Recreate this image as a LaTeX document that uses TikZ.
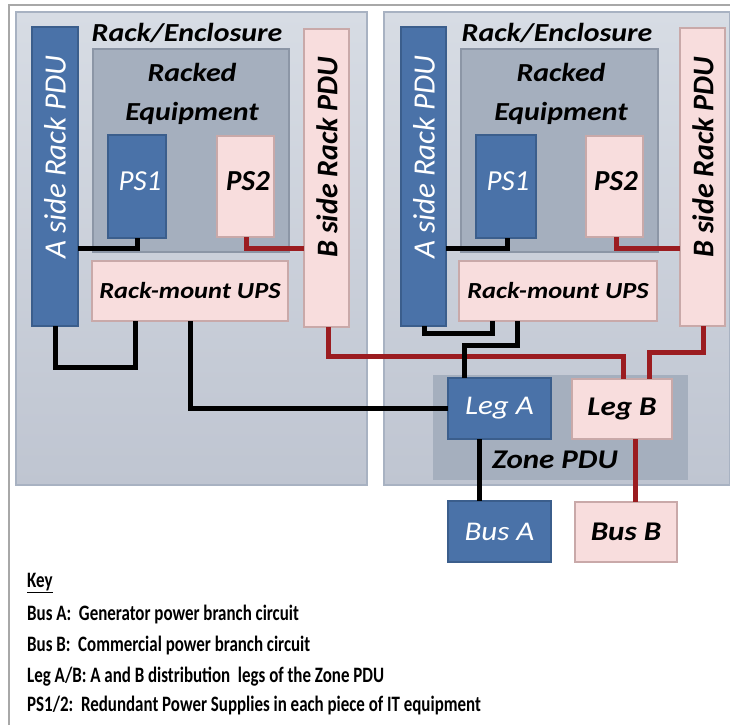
\documentclass[tikz,border=0pt]{standalone}
\usepackage{fontspec}
\setmainfont{Carlito}
\newfontfamily\dfont[FakeStretch=1.15]{Carlito}
\newfontfamily\kfont[FakeStretch=0.77]{Carlito}
\definecolor{blueF}{HTML}{4A72A8}
\definecolor{blueD}{HTML}{3B5E8C}
\definecolor{pinkF}{HTML}{F8DDDD}
\definecolor{pinkD}{HTML}{C9A9A9}
\definecolor{rackT}{HTML}{D7DCE4}
\definecolor{rackB}{HTML}{BFC5D1}
\definecolor{rackD}{HTML}{A8B2C2}
\definecolor{equipF}{HTML}{A5AFBE}
\definecolor{equipD}{HTML}{8C96A6}
\definecolor{redL}{HTML}{9B1C20}
\definecolor{frameC}{HTML}{A8A8A8}
\begin{document}
\begin{tikzpicture}[x=1pt,y=-1pt,
  box/.style={draw, line width=1.2pt, inner sep=0pt, outer sep=0pt, anchor=north west},
  bluebox/.style={box, fill=blueF, draw=blueD, text=white, font=\dfont\itshape\fontsize{27}{29}\selectfont},
  pinkbox/.style={box, fill=pinkF, draw=pinkD, text=black, font=\dfont\bfseries\itshape\fontsize{27}{29}\selectfont},
  rack/.style={box, draw=rackD, top color=rackT, bottom color=rackB},
  equip/.style={box, fill=equipF, draw=equipD},
  title/.style={font=\dfont\bfseries\itshape\fontsize{26}{28}\selectfont, inner sep=0pt},
  sidea/.style={font=\itshape\fontsize{31}{33}\selectfont, text=white, rotate=90, inner sep=0pt},
  sideb/.style={font=\bfseries\itshape\fontsize{30}{32}\selectfont, rotate=90, inner sep=0pt},
  blk/.style={line width=5pt, black},
  red/.style={line width=5pt, redL},
  keyt/.style={font=\kfont\bfseries\fontsize{22}{24}\selectfont, anchor=west, inner sep=0pt}
]
\useasboundingbox (0,0) rectangle (730,725);
\fill[white] (0,0) rectangle (730,725);
% outer frame
\draw[frameC, line width=2pt] (9,725) -- (9,5) -- (730,5);

% racks
\node[rack, minimum width=351pt, minimum height=473pt] (rack1) at (16,12) {};
\node[rack, minimum width=346pt, minimum height=473pt] (rack2) at (384,12) {};
\node[title] (t1) at (187,33) {Rack/Enclosure};
\node[title] (t2) at (557,33) {Rack/Enclosure};

% racked equipment
\node[equip, minimum width=196pt, minimum height=203pt] (eq1) at (93,49) {};
\node[equip, minimum width=197pt, minimum height=203pt] (eq2) at (461,49) {};
\node[title, align=center, font=\dfont\bfseries\itshape\fontsize{26}{39}\selectfont] (et1) at (192,94) {Racked\\Equipment};
\node[title, align=center, font=\dfont\bfseries\itshape\fontsize{26}{39}\selectfont] (et2) at (561,94) {Racked\\Equipment};

% PDUs
\node[bluebox, minimum width=46pt, minimum height=299pt] (ap1) at (32,27) {};
\node[sidea] (ap1t) at (55,157) {A side Rack PDU};
\node[pinkbox, minimum width=45pt, minimum height=298pt] (bp1) at (304,29) {};
\node[sideb] (bp1t) at (327,157) {B side Rack PDU};
\node[bluebox, minimum width=45pt, minimum height=299pt] (ap2) at (401,27) {};
\node[sidea] (ap2t) at (424,157) {A side Rack PDU};
\node[pinkbox, minimum width=45pt, minimum height=298pt] (bp2) at (680,28) {};
\node[sideb] (bp2t) at (703,157) {B side Rack PDU};

% PS
\node[bluebox, minimum width=58pt, minimum height=103pt] (ps11) at (108,135) {};
\node[text=white, font=\itshape\fontsize{29}{31}\selectfont] (ps11t) at (140,181) {PS1};
\node[pinkbox, minimum width=57pt, minimum height=101pt] (ps21) at (217,136) {};
\node[font=\bfseries\itshape\fontsize{29}{31}\selectfont] (ps21t) at (248,181) {PS2};
\node[bluebox, minimum width=60pt, minimum height=103pt] (ps12) at (476,135) {};
\node[text=white, font=\itshape\fontsize{29}{31}\selectfont] (ps12t) at (508,181) {PS1};
\node[pinkbox, minimum width=57pt, minimum height=101pt] (ps22) at (586,136) {};
\node[font=\bfseries\itshape\fontsize{29}{31}\selectfont] (ps22t) at (616,181) {PS2};

% UPS
\node[pinkbox, minimum width=196pt, minimum height=60pt, font=\dfont\bfseries\itshape\fontsize{23}{25}\selectfont] (ups1) at (92,261) {Rack-mount UPS};
\node[pinkbox, minimum width=198pt, minimum height=60pt, font=\dfont\bfseries\itshape\fontsize{23}{25}\selectfont] (ups2) at (459,261) {Rack-mount UPS};

% Zone PDU
\node[box, fill=equipF, draw=none, minimum width=255pt, minimum height=105pt] (zone) at (433,375) {};
\node[title, font=\dfont\bfseries\itshape\fontsize{27}{29}\selectfont] (zonet) at (555,460) {Zone PDU};
\node[bluebox, minimum width=103pt, minimum height=61pt] (lega) at (448,378) {Leg A};
\node[pinkbox, minimum width=100pt, minimum height=60pt] (legb) at (572,379) {Leg B};
\node[bluebox, minimum width=103pt, minimum height=61pt] (busa) at (448,501) {Bus A};
\node[pinkbox, minimum width=102pt, minimum height=60pt] (busb) at (575,502) {Bus B};

% connectors rack 1
\draw[blk] (ap1.east |- 0,248) -| (ps11.south -| 137,0);
\draw[red] (ps21.south -| 246,0) |- (bp1.west |- 0,248);
\draw[blk] (ap1.south -| 55,0) |- (135,367) -- (ups1.south -| 135,0);
\draw[blk] (ups1.south -| 190,0) |- (lega.west |- 0,408);
\draw[red] (bp1.south -| 328,0) |- (623,356) -- (legb.north -| 623,0);
% connectors rack 2
\draw[blk] (ap2.east |- 0,248) -| (ps12.south -| 507,0);
\draw[red] (ps22.south -| 616,0) |- (bp2.west |- 0,248);
\draw[blk] (ap2.south -| 424,0) |- (492,333) -- (ups2.south -| 492,0);
\draw[blk] (ups2.south -| 517,0) |- (464,345) -- (lega.north -| 464,0);
\draw[red] (bp2.south -| 703,0) |- (649,352) -- (legb.north -| 649,0);
% zone to bus
\draw[blk] (lega.south -| 479,0) -- (busa.north -| 479,0);
\draw[red] (legb.south -| 635,0) -- (busb.north -| 635,0);

% key
\node[keyt] (k0) at (27,583) {\underline{Key}};
\node[keyt] (k1) at (27,615) {Bus A:\ \ Generator power branch circuit};
\node[keyt] (k2) at (27,646) {Bus B:\ \ Commercial power branch circuit};
\node[keyt] (k3) at (27,677) {Leg A/B: A and B distribution\ \ legs of the Zone PDU};
\node[keyt] (k4) at (27,706) {PS1/2:\ \ Redundant Power Supplies in each piece of IT equipment};
\end{tikzpicture}
\end{document}
